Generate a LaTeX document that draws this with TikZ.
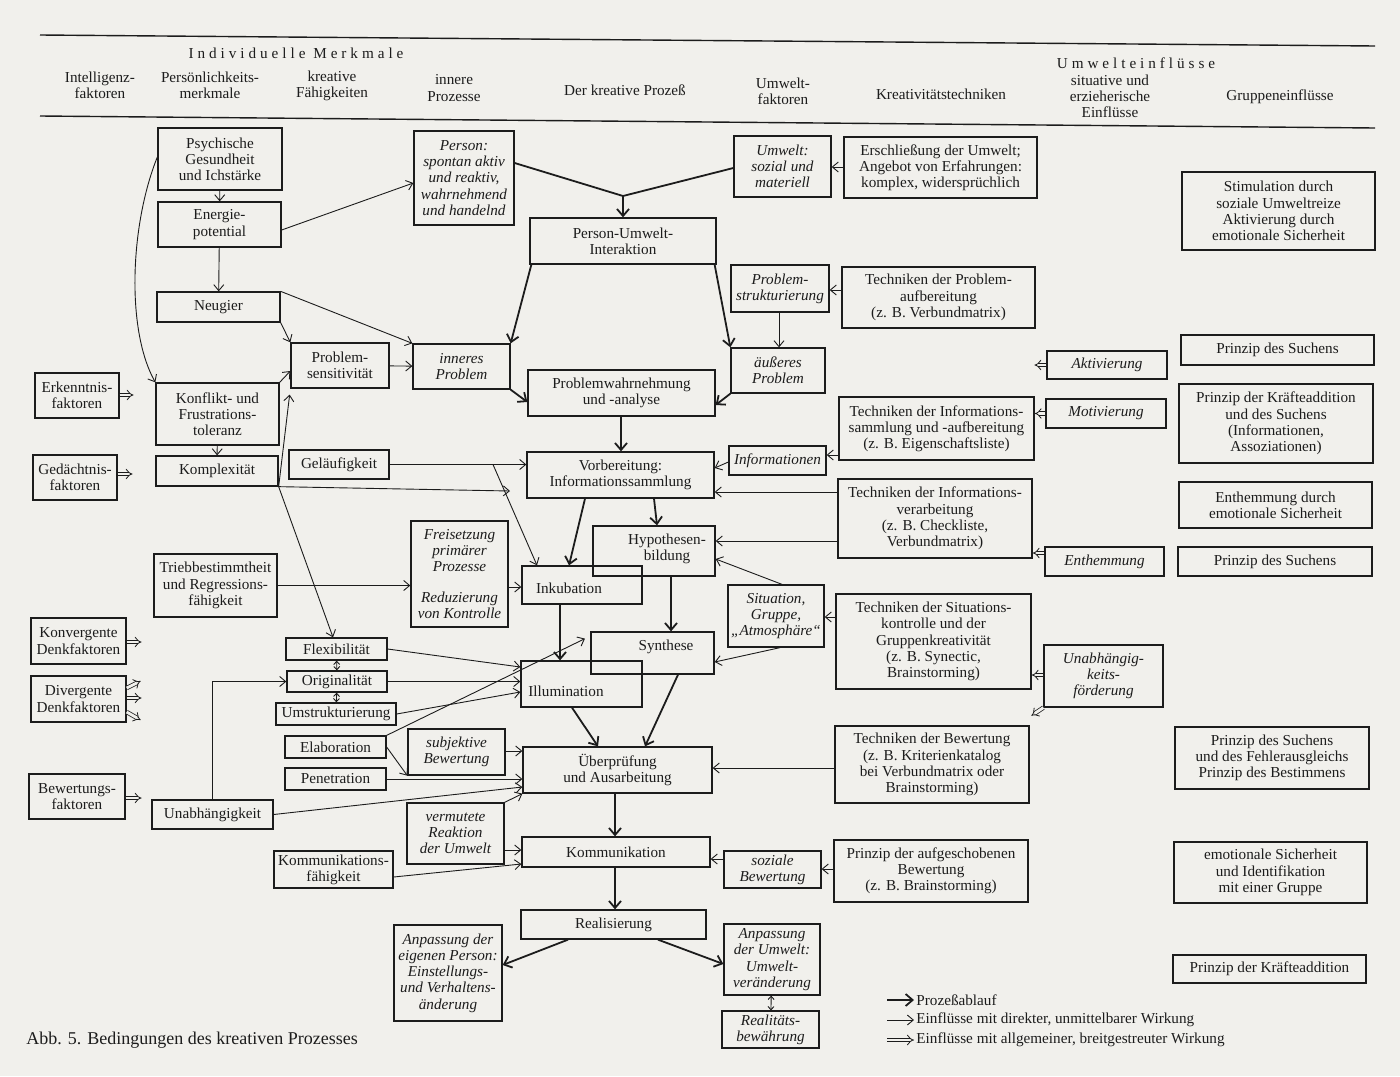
\documentclass[tikz,border=0pt]{standalone}
\usepackage{fontspec}
\setmainfont{Liberation Serif}
\newfontfamily\spacedfont[LetterSpace=26]{Liberation Serif}
\usepackage{tikz}
\usetikzlibrary{arrows.meta}
\definecolor{sInk}{RGB}{28,28,28}
\definecolor{sPaper}{RGB}{241,240,236}

\begin{document}
\begin{tikzpicture}[x=0.5pt, y=-0.5pt,
  bx/.style n args={4}{at={({(#1+#3)/2},{(#2+#4)/2})},
    minimum width={(#3-#1)*0.5pt}, minimum height={(#4-#2)*0.5pt}},
  box/.style={draw=sInk, text=sInk, line width=0.65pt, align=center, inner sep=1pt,
    font=\fontsize{7.6}{8.1}\selectfont},
  ibox/.style={box, font=\fontsize{7.6}{8.1}\selectfont\itshape},
  head/.style={text=sInk, align=center, inner sep=1pt, font=\fontsize{7.6}{8.1}\selectfont},
  proc/.style={draw=sInk, line width=0.9pt, -{Straight Barb[length=3.5pt,width=6pt]}},
  procline/.style={draw=sInk, line width=0.9pt},
  infl/.style={draw=sInk, line width=0.45pt, -{Straight Barb[length=3pt,width=5pt]}},
  both/.style={draw=sInk, line width=0.45pt, {Straight Barb[length=1.6pt,width=3pt]}-{Straight Barb[length=1.6pt,width=3pt]}},
  gen/.style={draw=sInk, line width=0.4pt, double=sPaper, double distance=1.4pt, -{Implies}},
  rule/.style={draw=sInk, line width=0.7pt}]
  \fill[sPaper] (0,0) rectangle (1400,1076);
  \useasboundingbox (0,0) rectangle (1400,1076);

  % header
  \draw[rule] (40,35) -- (1375,46);
  \draw[rule] (40,116) -- (1375,128);
  \node[head, font=\fontsize{7.6}{8.1}\spacedfont] (hIndiv) at (296,53) {Individuelle Merkmale};
  \node[head, font=\fontsize{7.6}{8.1}\spacedfont] (hUmwelt) at (1136,63) {Umwelteinflüsse};
  \node[head] (hIntel) at (100,85) {Intelligenz-\\faktoren};
  \node[head] (hPers) at (210,85) {Persönlichkeits-\\merkmale};
  \node[head] (hKreat) at (332,86) {kreative\\Fähigkeiten};
  \node[head] (hInner) at (454,88) {innere\\Prozesse};
  \node[head] (hProz) at (625,90) {Der kreative Prozeß};
  \node[head] (hUmf) at (783,91) {Umwelt-\\faktoren};
  \node[head] (hTech) at (941,94) {Kreativitätstechniken};
  \node[head] (hSit) at (1110,96) {situative und\\erzieherische\\Einflüsse};
  \node[head] (hGrp) at (1280,97) {Gruppeneinflüsse};

  % boxes
  \node[box, bx={158}{128}{282}{190}] (psych) {Psychische\\Gesundheit\\und Ichstärke};
  \node[box, bx={158}{202}{281}{247}] (energie) {Energie-\\potential};
  \node[box, bx={157}{292}{280}{322}] (neugier) {Neugier};
  \node[ibox, bx={414}{131}{514}{225}] (person) {Person:\\spontan aktiv\\und reaktiv,\\wahrnehmend\\und handelnd};
  \node[ibox, bx={734}{136}{831}{197}] (umwelt) {Umwelt:\\sozial und\\materiell};
  \node[box, bx={844}{137}{1037}{198}] (erschl) {Erschließung der Umwelt;\\Angebot von Erfahrungen:\\komplex, widersprüchlich};
  \node[box, bx={1182}{172}{1375}{250}] (stim) {Stimulation durch\\soziale Umweltreize\\Aktivierung durch\\emotionale Sicherheit};
  \node[box, bx={530}{218}{716}{264}] (pui) {Person-Umwelt-\\Interaktion};
  \node[ibox, bx={731}{265}{829}{312}] (probstr) {Problem-\\strukturierung};
  \node[box, bx={842}{267}{1035}{328}] (techprob) {Techniken der Problem-\\aufbereitung\\(z. B. Verbundmatrix)};
  \node[box, bx={291}{343}{389}{388}] (probsens) {Problem-\\sensitivität};
  \node[ibox, bx={413}{344}{510}{389}] (inneres) {inneres\\Problem};
  \node[ibox, bx={731}{348}{825}{393}] (aeusseres) {äußeres\\Problem};
  \node[box, bx={528}{370}{715}{416}] (probwahr) {Problemwahrnehmung\\und -analyse};
  \node[box, bx={1181}{335}{1374}{365}] (prinzA) {Prinzip des Suchens};
  \node[ibox, bx={1047}{351}{1167}{379}] (aktiv) {Aktivierung};
  \node[box, bx={35}{373}{119}{418}] (erkennt) {Erkenntnis-\\faktoren};
  \node[box, bx={156}{383}{279}{445}] (konflikt) {Konflikt- und\\Frustrations-\\toleranz};
  \node[box, bx={1179}{384}{1373}{463}] (kraefte) {Prinzip der Kräfteaddition\\und des Suchens\\(Informationen,\\Assoziationen)};
  \node[ibox, bx={1046}{399}{1166}{428}] (motiv) {Motivierung};
  \node[box, bx={839}{397}{1034}{460}] (techinfo) {Techniken der Informations-\\sammlung und -aufbereitung\\(z. B. Eigenschaftsliste)};
  \node[ibox, bx={729}{446}{826}{475}] (inform) {Informationen};
  \node[box, bx={156}{456}{278}{486}] (komplex) {Komplexität};
  \node[box, bx={289}{450}{389}{479}] (gelaeuf) {Geläufigkeit};
  \node[box, bx={33}{455}{117}{500}] (gedaecht) {Gedächtnis-\\faktoren};
  \node[box, bx={527}{452}{714}{498}] (vorber) {Vorbereitung:\\Informationssammlung};
  \node[box, bx={838}{479}{1032}{558}] (techver) {Techniken der Informations-\\verarbeitung\\(z. B. Checkliste,\\Verbundmatrix)};
  \node[box, bx={1179}{482}{1372}{528}] (enthemmG) {Enthemmung durch\\emotionale Sicherheit};
  \node[ibox, bx={411}{521}{508}{627}] (freis) {Freisetzung\\primärer\\Prozesse\\[7pt]Reduzierung\\von Kontrolle};
  \node[box, bx={593}{526}{715}{576}] (hypo) {};
  \node[head] (hypoT) at (667,549) {Hypothesen-\\bildung};
  \node[box, bx={154}{554}{277}{617}] (trieb) {Triebbestimmtheit\\und Regressions-\\fähigkeit};
  \node[box, bx={522}{566}{642}{604}] (inkub) {};
  \node[head] (inkubT) at (569,588) {Inkubation};
  \node[ibox, bx={1045}{547}{1164}{576}] (enthemm) {Enthemmung};
  \node[box, bx={1178}{547}{1372}{576}] (prinzB) {Prinzip des Suchens};
  \node[ibox, bx={728}{585}{824}{647}] (situation) {Situation,\\Gruppe,\\„Atmosphäre“};
  \node[box, bx={836}{594}{1031}{689}] (techsit) {Techniken der Situations-\\kontrolle und der\\Gruppenkreativität\\(z. B. Synectic,\\Brainstorming)};
  \node[box, bx={31}{618}{126}{664}] (konverg) {Konvergente\\Denkfaktoren};
  \node[box, bx={286}{638}{387}{660}] (flex) {Flexibilität};
  \node[box, bx={591}{632}{714}{674}] (synth) {};
  \node[head] (synthT) at (666,647) {Synthese};
  \node[ibox, bx={1044}{645}{1163}{707}] (unabhF) {Unabhängig-\\keits-\\förderung};
  \node[box, bx={287}{671}{387}{692}] (orig) {Originalität};
  \node[box, bx={31}{676}{126}{722}] (diverg) {Divergente\\Denkfaktoren};
  \node[box, bx={521}{661}{642}{707}] (illum) {};
  \node[head] (illumT) at (566,691) {Illumination};
  \node[box, bx={276}{703}{396}{725}] (umstr) {Umstrukturierung};
  \node[box, bx={285}{736}{386}{758}] (elabo) {Elaboration};
  \node[ibox, bx={408}{729}{505}{775}] (subj) {subjektive\\Bewertung};
  \node[box, bx={523}{747}{712}{793}] (ueberp) {Überprüfung\\und Ausarbeitung};
  \node[box, bx={835}{726}{1029}{803}] (techbew) {Techniken der Bewertung\\(z. B. Kriterienkatalog\\bei Verbundmatrix oder\\Brainstorming)};
  \node[box, bx={1175}{727}{1369}{789}] (prinzC) {Prinzip des Suchens\\und des Fehlerausgleichs\\Prinzip des Bestimmens};
  \node[box, bx={285}{768}{386}{790}] (penetr) {Penetration};
  \node[box, bx={29}{774}{125}{819}] (bewertf) {Bewertungs-\\faktoren};
  \node[box, bx={152}{800}{273}{829}] (unabh) {Unabhängigkeit};
  \node[ibox, bx={407}{803}{504}{864}] (vermut) {vermutete\\Reaktion\\der Umwelt};
  \node[box, bx={522}{837}{710}{867}] (kommunik) {Kommunikation};
  \node[ibox, bx={724}{851}{821}{888}] (sozbew) {soziale\\Bewertung};
  \node[box, bx={834}{840}{1028}{902}] (aufgesch) {Prinzip der aufgeschobenen\\Bewertung\\(z. B. Brainstorming)};
  \node[box, bx={1174}{842}{1367}{903}] (emot) {emotionale Sicherheit\\und Identifikation\\mit einer Gruppe};
  \node[box, bx={274}{851}{393}{888}] (kommF) {Kommunikations-\\fähigkeit};
  \node[box, bx={521}{910}{706}{939}] (realis) {Realisierung};
  \node[ibox, bx={394}{925}{502}{1021}] (anpP) {Anpassung der\\eigenen Person:\\Einstellungs-\\und Verhaltens-\\änderung};
  \node[ibox, bx={724}{924}{820}{995}] (anpU) {Anpassung\\der Umwelt:\\Umwelt-\\veränderung};
  \node[ibox, bx={722}{1011}{819}{1048}] (realb) {Realitäts-\\bewährung};
  \node[box, bx={1173}{955}{1366}{983}] (kraefteB) {Prinzip der Kräfteaddition};

  % Prozessablauf
  \coordinate (junc) at (623,196);
  \draw[procline] (person.east |- 0,163) -- (junc);
  \draw[procline] (umwelt.west |- 0,168) -- (junc);
  \draw[proc] (junc) -- (pui.north);
  \draw[proc] ([xshift=1pt]pui.south west) -- (inneres.north east);
  \draw[proc] ([xshift=-1pt]pui.south east) -- (aeusseres.north west);
  \draw[proc] (inneres.south east) -- (probwahr.west |- 0,402);
  \draw[proc] (aeusseres.south west) -- (probwahr.east |- 0,405);
  \draw[proc] (probwahr.south -| 621,0) -- (vorber.north -| 621,0);
  \draw[proc] (vorber.south -| 585,0) -- (inkub.north -| 569,0);
  \draw[proc] (vorber.south -| 654,0) -- (hypo.north -| 657,0);
  \draw[proc] (hypo.south -| 671,0) -- (synth.north -| 671,0);
  \draw[proc] (inkub.south -| 560,0) -- (illum.north -| 560,0);
  \draw[proc] (illum.south -| 572,0) -- (ueberp.north -| 598,0);
  \draw[proc] (synth.south -| 678,0) -- (ueberp.north -| 645,0);
  \draw[proc] (ueberp.south -| 615,0) -- (kommunik.north -| 615,0);
  \draw[proc] (kommunik.south -| 615,0) -- (realis.north -| 615,0);
  \draw[proc] (realis.south -| 568,0) -- (anpP.east |- 0,965);
  \draw[proc] (realis.south -| 658,0) -- (anpU.west |- 0,964);
  \draw[both] (anpU) -- (realb);

  % direkte Einfluesse
  \draw[infl] (psych) -- (energie);
  \draw[infl] (energie) -- (neugier);
  \draw[infl] (energie.east |- 0,230) -- (person.west |- 0,183);
  \draw[infl] (psych.west |- 0,157) .. controls (130,225) and (126,330) .. (konflikt.north west);
  \draw[infl] (neugier.south east) -- (probsens.north west);
  \draw[infl] (neugier.north east) -- (inneres.north west);
  \draw[infl] (probsens) -- (inneres);
  \draw[infl] (konflikt.north east) -- (probsens.west |- 0,371);
  \draw[infl, shorten >=3pt] (komplex.south east) -- (probsens.south west);
  \draw[infl] (konflikt) -- (komplex);
  \draw[infl] (komplex.south east) -- (flex.north -| 333,0);
  \coordinate (vorbW) at (510,491);
  \draw[infl] (komplex.south east) -- (vorbW);
  \draw[infl] (gelaeuf.east) -- (vorber.west |- gelaeuf.east);
  \draw[infl] (gelaeuf.east -| 493,0) -- (inkub.north -| 537,0);
  \draw[infl] (trieb.east) -- (freis.west |- trieb.east);
  \draw[infl] (freis.east |- 0,587) -- (inkub.west |- 0,587);
  \draw[infl] (flex.east) -- (illum.west |- 0,667);
  \draw[infl] (orig.east) -- (illum.west |- orig.east);
  \draw[infl] (umstr.east) -- (illum.west |- 0,692);
  \draw[both] (flex) -- (orig);
  \draw[both] (orig) -- (umstr);
  \draw[infl] (unabh.north -| 212,0) |- (orig.west);
  \draw[infl, shorten >=3pt] (elabo.north east) -- (synth.west |- 0,636);
  \draw[infl] (elabo.east) -- (subj.south west);
  \draw[infl] (penetr.east) -- (ueberp.west |- penetr.east);
  \draw[infl] (subj.east |- 0,751) -- (ueberp.west |- 0,751);
  \draw[infl] (unabh.east) -- (ueberp.west |- 0,787);
  \draw[infl] (vermut.north east) -- (ueberp.south west);
  \draw[infl] (vermut.east |- 0,850) -- (kommunik.west |- 0,850);
  \draw[infl] (kommF.east |- 0,877) -- (kommunik.west |- 0,864);
  \draw[infl] (erschl.west |- 0,167) -- (umwelt.east |- 0,167);
  \draw[infl] (techprob.west |- 0,290) -- (probstr.east |- 0,290);
  \draw[infl] (probstr.south -| 779,0) -- (aeusseres.north -| 779,0);
  \draw[infl] (techinfo.west |- 0,455) -- (inform.east |- 0,455);
  \draw[infl] (inform.west |- 0,462) -- (vorber.east |- 0,468);
  \draw[infl] (techver.west |- 0,492) -- (vorber.east |- 0,492);
  \draw[infl] (techver.west |- 0,541) -- (hypo.east |- 0,541);
  \draw[infl] (situation.north -| 782,0) -- (hypo.east |- 0,559);
  \draw[infl] (situation.south -| 780,0) -- (synth.east |- 0,662);
  \draw[infl] (techsit.west |- 0,617) -- (situation.east |- 0,617);
  \draw[infl] (techbew.west |- 0,768) -- (ueberp.east |- 0,768);
  \draw[infl] (sozbew.west |- 0,859) -- (kommunik.east |- 0,859);
  \draw[infl] (aufgesch.west |- 0,869) -- (sozbew.east |- 0,869);

  % allgemeine Einfluesse
  \draw[gen] (erkennt.east |- 0,395) -- ++(14,0) coordinate (erkenntOut);
  \draw[gen] (gedaecht.east |- 0,474) -- ++(15,0) coordinate (gedaechtOut);
  \draw[gen] (konverg.east |- 0,642) -- ++(15,0) coordinate (konvergOut);
  \draw[gen] (diverg.east |- 0,688) -- ++(14,-7) coordinate (divergOutA);
  \draw[gen] (diverg.east |- 0,698) -- ++(15,0) coordinate (divergOutB);
  \draw[gen] (diverg.east |- 0,712) -- ++(14,8) coordinate (divergOutC);
  \draw[gen] (bewertf.east |- 0,798) -- ++(16,0) coordinate (bewertfOut);
  \draw[gen] (aktiv.west) -- ++(-12,0) coordinate (aktivOut);
  \draw[gen] (motiv.west) -- (techinfo.east |- motiv.west);
  \draw[gen] (enthemm.west |- 0,553) -- (techver.east |- 0,553);
  \draw[gen] (unabhF.west |- 0,675) -- (techsit.east |- 0,675);
  \draw[gen] (unabhF.south west) -- ++(-12,8) coordinate (unabhFOut);

  % legend and caption
  \node[head, anchor=west] (legA) at (914,1000) {Prozeßablauf};
  \node[head, anchor=west] (legB) at (914,1020) {Einflüsse mit direkter, unmittelbarer Wirkung};
  \node[head, anchor=west] (legC) at (914,1040) {Einflüsse mit allgemeiner, breitgestreuter Wirkung};
  \coordinate (legAs) at (887,1000);
  \coordinate (legBs) at (887,1020);
  \coordinate (legCs) at (887,1040);
  \draw[proc] (legAs) -- (legA.west);
  \draw[infl] (legBs) -- (legB.west);
  \draw[gen] (legCs) -- (legC.west);
  \node[head, anchor=west, font=\fontsize{9}{10}\selectfont] (caption) at (24,1040) {Abb. 5. Bedingungen des kreativen Prozesses};
\end{tikzpicture}
\end{document}
